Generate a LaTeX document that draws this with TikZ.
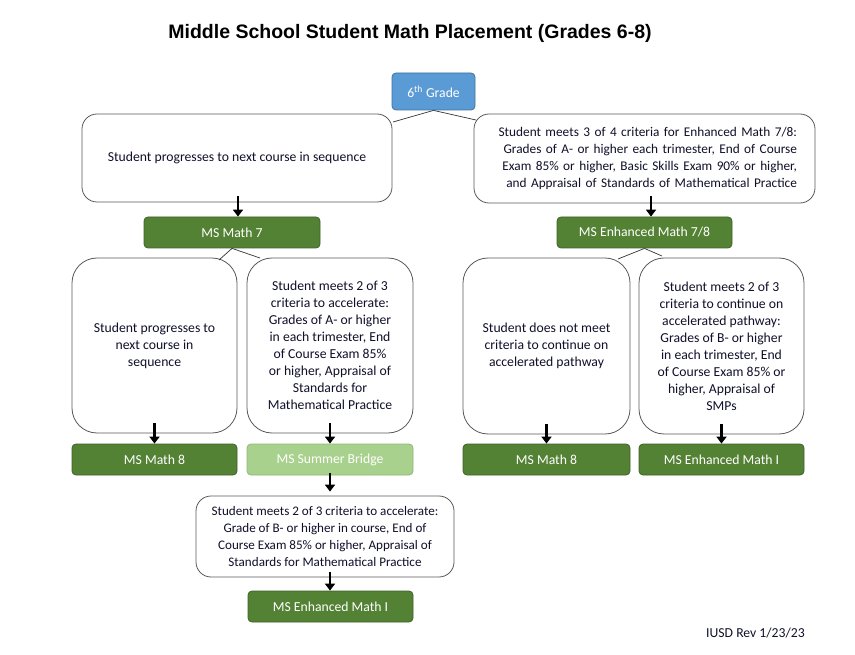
\documentclass[tikz,border=0pt]{standalone}
\usepackage{fontspec}
\setmainfont{Carlito}
\newfontfamily\titlefont{Liberation Sans}
\usetikzlibrary{arrows.meta}
\definecolor{boxgray}{HTML}{595959}
\definecolor{gblue}{HTML}{5B9BD5}
\definecolor{gblueb}{HTML}{41719C}
\definecolor{dgreen}{HTML}{548235}
\definecolor{dgreenb}{HTML}{3E6128}
\definecolor{lgreen}{HTML}{A9D18E}
\definecolor{lgreenb}{HTML}{8DB872}
\definecolor{txt}{HTML}{10102A}
\begin{document}
\begin{tikzpicture}[x=1pt,y=-1pt,
  every node/.style={font=\fontsize{13.7}{17}\selectfont, inner sep=0pt, text=txt},
  wbox/.style={draw=boxgray, fill=white, line width=0.8pt, align=center},
  gbox/.style={draw=dgreenb, fill=dgreen, line width=0.8pt, rounded corners=4pt,
    text=white, minimum height=31pt, align=center},
  lbox/.style={gbox, draw=lgreenb, fill=lgreen},
  bbox/.style={draw=gblueb, fill=gblue, line width=0.8pt, rounded corners=4pt,
    text=white, align=center},
  link/.style={draw=black!80, line width=0.7pt},
  arr/.style={draw=black, line width=2.6pt, -{Triangle[width=10pt,length=7pt]}},
]
\useasboundingbox (0,0) rectangle (855,655);

\node[font=\titlefont\bfseries\fontsize{19.5}{23}\selectfont, text=black] (title) at (410,33)
  {Middle School Student Math Placement (Grades 6-8)};

\node[bbox, minimum width=83pt, minimum height=37pt] (g6) at (433.5,91.5)
  {6\textsuperscript{th} Grade};

\node[wbox, rounded corners=15pt, minimum width=310pt, minimum height=88pt] (topL) at (237,158)
  {Student progresses to next course in sequence};
\node[wbox, rounded corners=15pt, minimum width=341pt, minimum height=89pt,
  text width=305pt, inner xsep=18pt, align=right, font=\fontsize{13.3}{17}\selectfont] (topR) at (644.5,158.5)
  {Student meets 3 of 4 criteria for Enhanced Math 7/8:\\
   Grades of A- or higher each trimester, End of Course\\
   Exam 85\% or higher, Basic Skills Exam 90\% or higher,\\
   and Appraisal of Standards of Mathematical Practice};

\node[gbox, minimum width=176pt] (m7) at (232,232.5) {MS Math 7};
\node[gbox, minimum width=175pt] (e78) at (644.5,232.5) {MS Enhanced Math 7/8};

\node[wbox, rounded corners=25pt, minimum width=165pt, minimum height=175pt] (mA) at (154.5,345.5)
  {Student progresses to\\next course in\\sequence};
\node[wbox, rounded corners=25pt, minimum width=166pt, minimum height=175pt] (mB) at (330,345.5)
  {Student meets 2 of 3\\criteria to accelerate:\\Grades of A- or higher\\in each trimester, End\\of Course Exam 85\%\\or higher, Appraisal of\\Standards for\\Mathematical Practice};
\node[wbox, rounded corners=25pt, minimum width=167pt, minimum height=176pt] (mC) at (546.5,346)
  {Student does not meet\\criteria to continue on\\accelerated pathway};
\node[wbox, rounded corners=25pt, minimum width=165pt, minimum height=176pt] (mD) at (721.5,346)
  {Student meets 2 of 3\\criteria to continue on\\accelerated pathway:\\Grades of B- or higher\\in each trimester, End\\of Course Exam 85\% or\\higher, Appraisal of\\SMPs};

\node[gbox, minimum width=165pt] (m8L) at (154.5,459.5) {MS Math 8};
\node[lbox, minimum width=166pt] (sb) at (330,459.5) {MS Summer Bridge};
\node[gbox, minimum width=167pt] (m8R) at (546.5,459.5) {MS Math 8};
\node[gbox, minimum width=165pt] (eIR) at (721.5,459.5) {MS Enhanced Math I};

\node[wbox, rounded corners=15pt, minimum width=258pt, minimum height=81pt,
  font=\fontsize{13.1}{17}\selectfont] (bE) at (325,536.5)
  {Student meets 2 of 3 criteria to accelerate:\\Grade of B- or higher in course, End of\\Course Exam 85\% or higher, Appraisal of\\Standards for Mathematical Practice};
\node[gbox, minimum width=165pt] (eIB) at (330.5,606.5) {MS Enhanced Math I};

\node[anchor=west] (rev) at (706,633) {IUSD Rev 1/23/23};

% connector end points
\coordinate (tlL) at (393,122);
\coordinate (tlR) at (476,120);
\coordinate (mlL) at (219,260);
\coordinate (mlR) at (260,258);
\coordinate (elL) at (618,259);
\coordinate (elR) at (662,256);

\draw[link] (g6.south) -- (tlL);
\draw[link] (g6.south) -- (tlR);
\draw[link] (m7.south) -- (mlL);
\draw[link] (m7.south) -- (mlR);
\draw[link] (e78.south) -- (elL);
\draw[link] (e78.south) -- (elR);

% arrows
\draw[arr] ([xshift=1pt,yshift=6pt]topL.south) -- ([xshift=1pt]topL.south |- m7.north);
\draw[arr] ([xshift=6.5pt,yshift=7pt]topR.south) -- ([xshift=6.5pt]topR.south |- e78.north);
\draw[arr] ([yshift=10pt]mA.south) -- (mA.south |- m8L.north);
\draw[arr] ([yshift=10pt]mB.south) -- (mB.south |- sb.north);
\draw[arr] ([yshift=10pt]mC.south) -- (mC.south |- m8R.north);
\draw[arr] ([yshift=10pt]mD.south) -- (mD.south |- eIR.north);
\draw[arr] ([yshift=2pt]sb.south) -- ([yshift=4pt]sb.south |- bE.north);
\draw[arr] ([xshift=5pt,yshift=5pt]bE.south) -- ([xshift=5pt]bE.south |- eIB.north);
\end{tikzpicture}
\end{document}
